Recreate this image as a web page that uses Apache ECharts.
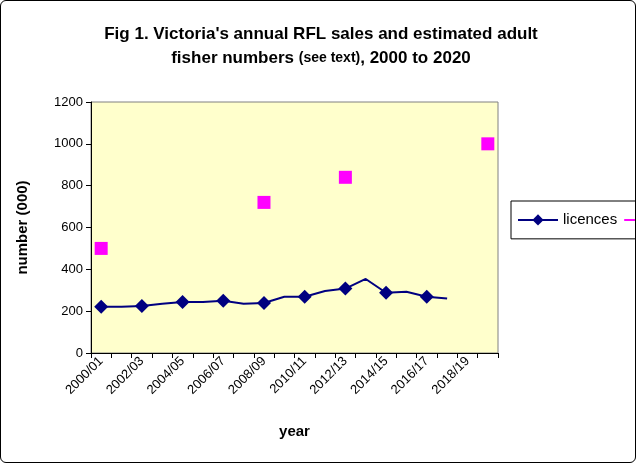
<!DOCTYPE html><html><head><script src="https://cdn.jsdelivr.net/npm/echarts@6/dist/echarts.min.js"></script>
<style>body{margin:0;background:#fff}#c{width:636px;height:463px;box-sizing:border-box;border:1px solid #000;border-radius:6px}</style></head><body><div id="c"></div><script>
const years=['2000/01','2001/02','2002/03','2003/04','2004/05','2005/06','2006/07','2007/08','2008/09','2009/10','2010/11','2011/12','2012/13','2013/14','2014/15','2015/16','2016/17','2017/18','2018/19','2019/20'];
const licences=[221,221,225,236,244,244,250,236,239,269,269,296,308,354,288,293,269,260,null,250];
const fishers=[500,null,null,null,null,null,null,null,720,null,null,null,840,null,null,null,null,null,null,1000];
const yTicks=[0,200,400,600,800,1000,1200];
const ch=echarts.init(document.getElementById('c'));
ch.setOption({
 animation:false,
 title:{text:"{a|Fig 1. Victoria's annual RFL sales and estimated adult}\n{a|fisher numbers }{b|(see text)}{a|, 2000 to 2020}",left:315,textAlign:'center',top:16,
  textStyle:{rich:{a:{fontFamily:'Liberation Sans',fontWeight:'bold',fontSize:17,lineHeight:24,color:'#000'},b:{fontFamily:'Liberation Sans',fontWeight:'bold',fontSize:14,lineHeight:24,color:'#000'}}}},
 grid:{left:90,right:137,top:101,bottom:109,show:true,backgroundColor:'#FFFFCC',borderColor:'#808080',borderWidth:1},
 legend:{orient:'vertical',left:510,top:200,width:110,height:44,padding:[6,8,6,6],itemGap:6,borderColor:'#000',borderWidth:1,itemWidth:40,itemHeight:14,
  textStyle:{fontFamily:'Liberation Sans',fontSize:15,color:'#000'},data:['licences','fishers']},
 xAxis:{type:'category',data:years,boundaryGap:true,name:'year',nameLocation:'middle',nameGap:66,
  nameTextStyle:{fontFamily:'Liberation Sans',fontWeight:'bold',fontSize:15,color:'#000'},
  axisLine:{lineStyle:{color:'#000'}},axisTick:{show:true,interval:0,lineStyle:{color:'#000'}},
  axisLabel:{interval:1,rotate:45,fontFamily:'Liberation Sans',fontSize:13,color:'#000',margin:6}},
 yAxis:{type:'value',min:0,max:1200,interval:200,name:'number (000)',nameLocation:'middle',nameGap:55,
  nameTextStyle:{fontFamily:'Liberation Sans',fontWeight:'bold',fontSize:15,color:'#000'},
  axisLine:{show:true,lineStyle:{color:'#000'}},axisTick:{show:true,lineStyle:{color:'#000'}},splitLine:{show:false},
  axisLabel:{fontFamily:'Liberation Sans',fontSize:13,color:'#000',formatter:v=>yTicks.includes(v)?String(v):''}},
 series:[
  {name:'licences',type:'line',data:licences,connectNulls:false,symbol:'diamond',symbolSize:14,
   lineStyle:{color:'#000080',width:2},itemStyle:{color:'#000080'}},
  {name:'fishers',type:'line',data:fishers,connectNulls:false,symbol:'rect',symbolSize:13,
   lineStyle:{color:'#FF00FF',width:1},itemStyle:{color:'#FF00FF'}}
 ]});
</script></body></html>
